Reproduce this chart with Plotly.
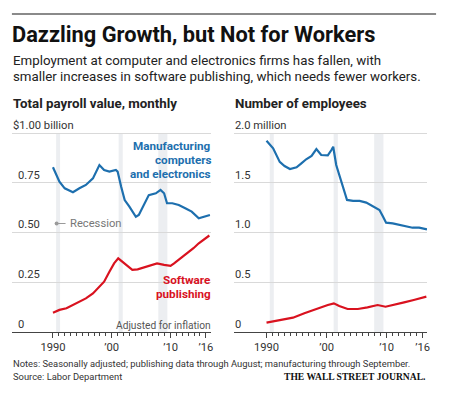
import plotly.graph_objects as go

# ---------------- data ----------------
pay_mfg_years = [1990.0, 1991.1, 1992.0, 1993.4, 1994.5, 1995.6, 1996.8, 1997.3, 1997.9, 1998.7,
                 1999.6, 2000.7, 2001.0, 2001.6, 2002.2, 2003.0, 2004.1, 2004.6, 2005.5, 2006.3,
                 2007.5, 2008.3, 2008.9, 2009.4, 2010.3, 2011.4, 2012.5, 2013.6, 2014.8, 2015.6,
                 2016.4, 2016.7]
pay_mfg_values = [0.828, 0.755, 0.722, 0.702, 0.722, 0.739, 0.772, 0.806, 0.839, 0.814,
                  0.806, 0.814, 0.806, 0.730, 0.663, 0.630, 0.579, 0.588, 0.638, 0.688,
                  0.697, 0.714, 0.697, 0.647, 0.647, 0.638, 0.622, 0.605, 0.571, 0.579,
                  0.588, 0.588]

pay_sw_years = [1990.0, 1991.1, 1992.3, 1993.4, 1994.5, 1995.6, 1996.8, 1997.9, 1998.7, 1999.6,
                2000.4, 2001.1, 2001.8, 2002.7, 2003.5, 2004.4, 2005.5, 2006.6, 2007.7, 2008.9,
                2010.0, 2010.6, 2011.7, 2012.8, 2013.9, 2014.8, 2015.6, 2016.6]
pay_sw_values = [0.097, 0.111, 0.119, 0.136, 0.152, 0.169, 0.194, 0.228, 0.253, 0.303,
                 0.345, 0.370, 0.353, 0.328, 0.312, 0.315, 0.325, 0.337, 0.345, 0.337,
                 0.332, 0.345, 0.370, 0.395, 0.421, 0.446, 0.462, 0.485]

emp_mfg_years = [1990.0, 1991.1, 1992.2, 1993.0, 1993.9, 1995.0, 1995.8, 1996.6, 1997.5, 1998.3,
                 1999.1, 2000.2, 2000.8, 2001.1, 2001.6, 2002.5, 2003.4, 2004.4, 2005.5, 2006.6,
                 2007.7, 2008.8, 2009.4, 2009.9, 2011.0, 2012.1, 2013.2, 2014.3, 2015.4, 2016.7]
emp_mfg_values = [1.923, 1.846, 1.710, 1.668, 1.638, 1.655, 1.695, 1.736, 1.769, 1.839,
                  1.779, 1.776, 1.829, 1.862, 1.678, 1.494, 1.327, 1.317, 1.317, 1.300,
                  1.266, 1.226, 1.159, 1.099, 1.092, 1.075, 1.058, 1.048, 1.048, 1.032]

emp_sw_years = [1990.0, 1992.5, 1994.4, 1996.3, 1998.5, 2000.2, 2001.2, 2002.1, 2003.5, 2005.2,
                2006.8, 2008.5, 2009.8, 2011.2, 2012.9, 2014.5, 2016.6]
emp_sw_values = [0.094, 0.120, 0.144, 0.188, 0.238, 0.271, 0.288, 0.261, 0.231, 0.231,
                 0.248, 0.271, 0.254, 0.271, 0.298, 0.322, 0.355]

recessions = [(1990.54, 1991.21), (2001.17, 2001.87), (2007.92, 2009.46)]

x_tick_vals = [1990, 2000, 2010, 2016]
x_tick_text = ["1990", "\u201900", "\u201910", "\u201916"]
x_minor_vals = list(range(1990, 2017))

pay_tick_vals = [0, 0.25, 0.5, 0.75, 1.0]
pay_tick_text = ["0", "0.25", "0.50", "0.75", "$1.00 billion"]
emp_tick_vals = [0, 0.5, 1.0, 1.5, 2.0]
emp_tick_text = ["0", "0.5", "1.0", "1.5", "2.0 million"]

# ---------------- styling ----------------
W, H = 450, 397
BLUE = "#1d6fae"
RED = "#d9121f"
FONT = "Roboto, sans-serif"
TXT = "#222222"


def px(x):
    return x / W


def py(y):
    return 1 - y / H


fig = go.Figure()

for xs, ys, col, xa, ya in [
    (pay_mfg_years, pay_mfg_values, BLUE, "x", "y"),
    (pay_sw_years, pay_sw_values, RED, "x", "y"),
    (emp_mfg_years, emp_mfg_values, BLUE, "x2", "y2"),
    (emp_sw_years, emp_sw_values, RED, "x2", "y2"),
]:
    fig.add_trace(go.Scatter(x=xs, y=ys, mode="lines", line=dict(color=col, width=2.2),
                             xaxis=xa, yaxis=ya, hoverinfo="skip", showlegend=False))

top_px, zero_px = 129, 332
unit_left = 199.0
unit_right = 99.5

xaxis_common = dict(
    showgrid=False, zeroline=False, showline=True, linecolor="#444", linewidth=1,
    ticks="outside", ticklen=5, tickwidth=1, tickcolor="#444",
    tickvals=x_tick_vals, ticktext=x_tick_text,
    tickfont=dict(family=FONT, size=11.2, color="#333"),
    minor=dict(tickvals=x_minor_vals, ticks="outside", ticklen=3, tickwidth=1,
               tickcolor="#444", showgrid=False),
    fixedrange=True,
)
yaxis_common = dict(
    showgrid=True, gridcolor="#d9d9d9", gridwidth=1, zeroline=False, showline=False,
    ticks="", showticklabels=False, fixedrange=True,
)

fig.update_layout(
    width=W, height=H, margin=dict(l=0, r=0, t=0, b=0),
    paper_bgcolor="white", plot_bgcolor="white", showlegend=False,
    xaxis=dict(domain=[px(12), px(212)], range=[1983.02, 2016.81], anchor="y", **xaxis_common),
    yaxis=dict(domain=[py(zero_px), py(top_px)], range=[0, (zero_px - top_px) / unit_left],
               tickvals=pay_tick_vals, anchor="x", **yaxis_common),
    xaxis2=dict(domain=[px(236), px(430)], range=[1984.66, 2016.73], anchor="y2", **xaxis_common),
    yaxis2=dict(domain=[py(zero_px), py(top_px)], range=[0, (zero_px - top_px) / unit_right],
                tickvals=emp_tick_vals, anchor="x2", **yaxis_common),
)

shapes = []
for (a, b) in recessions:
    shapes.append(dict(type="rect", xref="x", yref="y", x0=a, x1=b, y0=0, y1=1.0,
                       fillcolor="#eceef1", line=dict(width=0), layer="below"))
    shapes.append(dict(type="rect", xref="x2", yref="y2", x0=a, x1=b, y0=0, y1=2.0,
                       fillcolor="#eceef1", line=dict(width=0), layer="below"))
# top rule
shapes.append(dict(type="line", xref="paper", yref="paper", x0=px(12), x1=px(439),
                   y0=py(14), y1=py(14), line=dict(color="#8a8a8a", width=2)))
# recession key
shapes.append(dict(type="line", xref="paper", yref="paper", x0=px(57), x1=px(66),
                   y0=py(223.5), y1=py(223.5), line=dict(color="#9a9a9a", width=1)))
shapes.append(dict(type="circle", xref="paper", yref="paper", x0=px(55), x1=px(59),
                   y0=py(225.5), y1=py(221.5), fillcolor="#9a9a9a", line=dict(width=0)))
fig.update_layout(shapes=shapes)

ann = []


def text(x, y, s, size, color=TXT, bold=False, anchor="left", family=FONT, yanchor="middle",
         xref="paper", yref="paper"):
    ann.append(dict(x=x, y=y, xref=xref, yref=yref, text=s, showarrow=False,
                    xanchor=anchor, yanchor=yanchor, align=anchor, borderpad=0,
                    font=dict(family=family, size=size, color=color,
                              weight="bold" if bold else "normal")))


text(px(11), py(34), "Dazzling Growth, but Not for Workers", 21.8, color="#111", bold=True)
text(px(12), py(60), "Employment at computer and electronics firms has fallen, with", 13.3)
text(px(12), py(77), "smaller increases in software publishing, which needs fewer workers.", 13.3)
text(px(12), py(103), "Total payroll value, monthly", 13.3, bold=True)
text(px(236), py(103), "Number of employees", 13.3, bold=True)

# y-axis labels (above gridlines)
for v, t in zip(pay_tick_vals, pay_tick_text):
    text(px(12 if t.startswith("$") else 17), v, t, 11.2, color="#333", yanchor="bottom", yref="y")
for v, t in zip(emp_tick_vals, emp_tick_text):
    text(px(236), v, t, 11.2, color="#333", yanchor="bottom", yref="y2")

for yy, s in [(145.5, "Manufacturing"), (159.5, "computers"), (173.5, "and electronics")]:
    text(px(213), py(yy), s, 11.7, color=BLUE, bold=True, anchor="right")
for yy, s in [(280, "Software"), (294, "publishing")]:
    text(px(213), py(yy), s, 11.7, color=RED, bold=True, anchor="right")
text(px(69), py(223.5), "Recession", 11.2, color="#777")
text(px(213), py(325), "Adjusted for inflation", 10.2, color="#555", anchor="right")

text(px(12), py(363),
     "Notes: Seasonally adjusted; publishing data through August; manufacturing through September.",
     9.4, color="#333")
text(px(12), py(376), "Source: Labor Department", 9.4, color="#333")
text(px(429), py(376), "THE WALL STREET JOURNAL.", 9.6, color="#111", bold=True, anchor="right",
     family="Liberation Serif, DejaVu Serif, serif")

fig.update_layout(annotations=ann)
fig.write_html("out.html", config={"displayModeBar": False, "staticPlot": True},
               post_script="document.body.style.margin='0';document.body.style.padding='0';")
